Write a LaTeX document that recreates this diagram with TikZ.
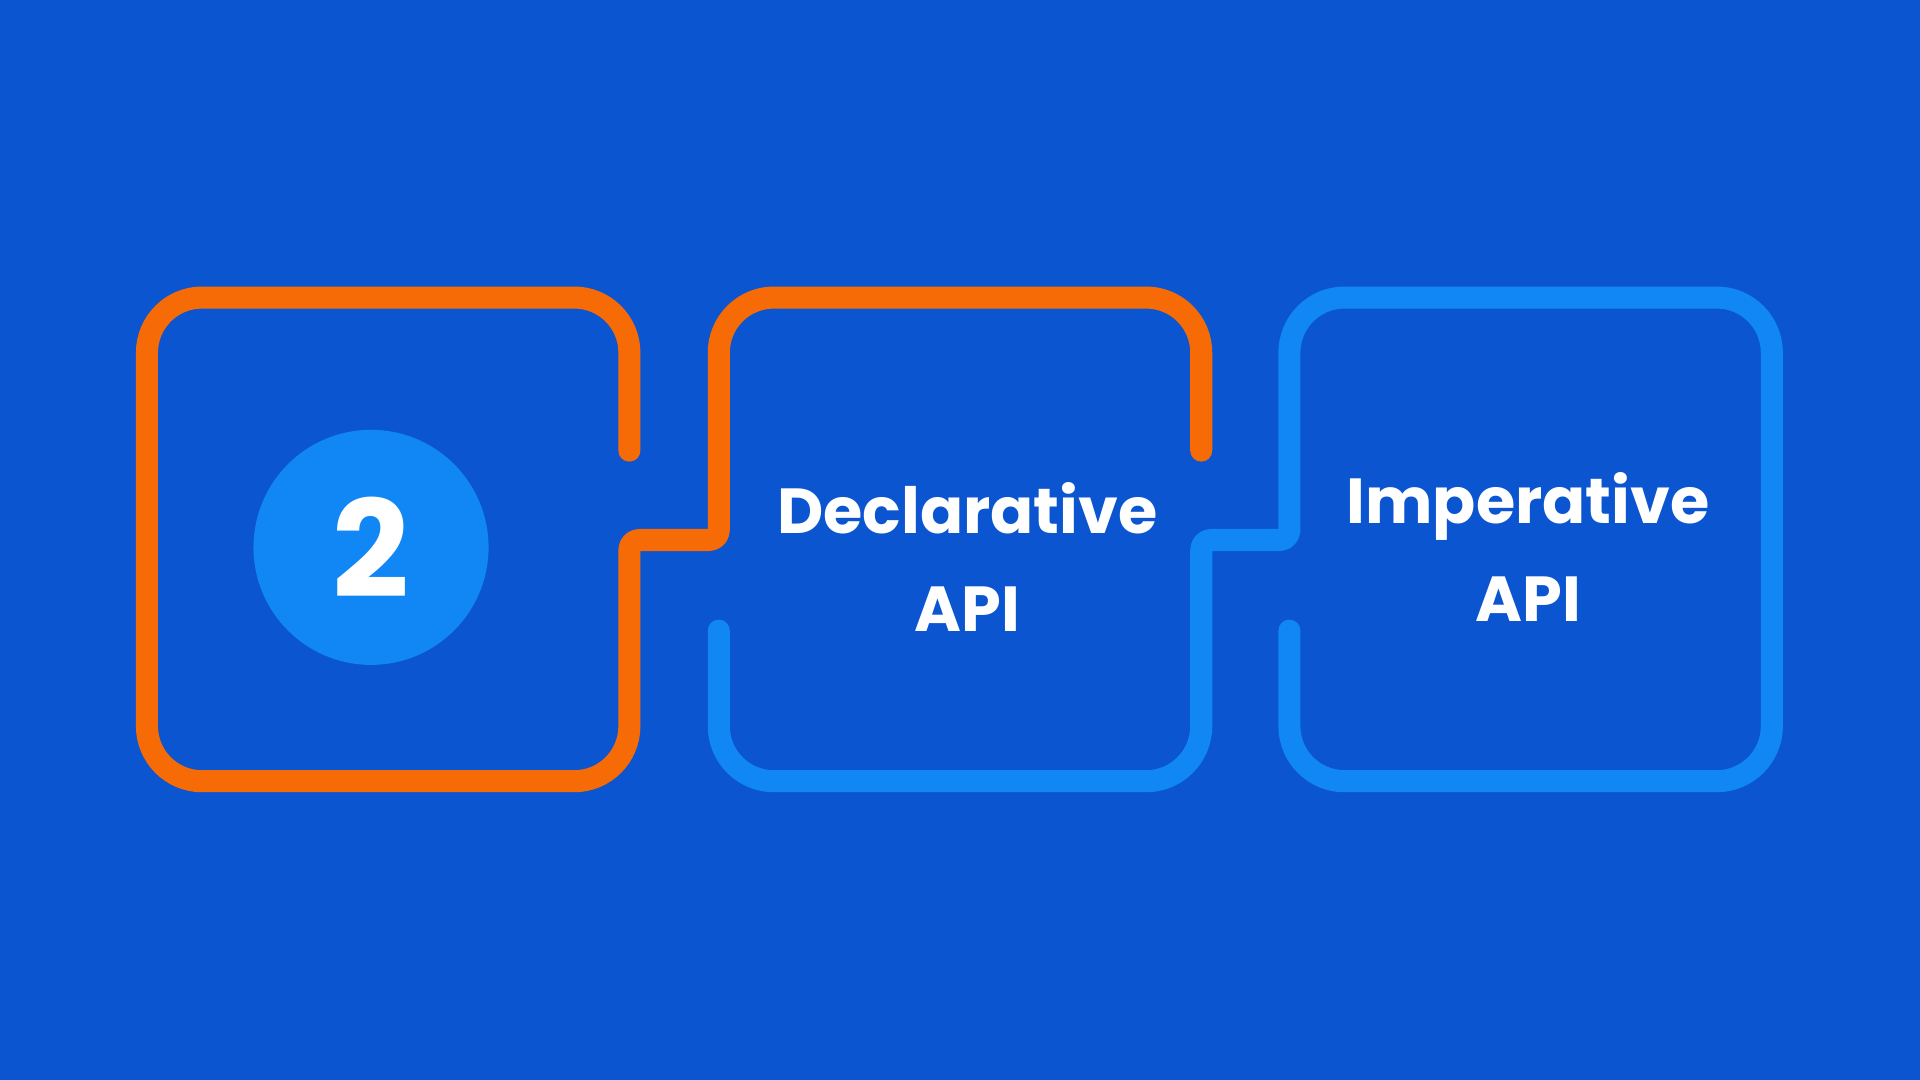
\documentclass[tikz,border=0pt]{standalone}
\usepackage{fontspec}
\setmainfont{Poppins}
\definecolor{bg}{HTML}{0B55D0}
\definecolor{org}{HTML}{F76B07}
\definecolor{lb}{HTML}{1187F5}
\begin{document}
\begin{tikzpicture}[x=1pt,y=-1pt,
  pathline/.style={line width=18pt,line cap=round,line join=round},
  lbl/.style={text=white,font=\bfseries\fontsize{52}{80}\selectfont,align=center}]
\fill[bg] (0,0) rectangle (1568,882);
\useasboundingbox (0,0) rectangle (1568,882);
\node[circle,fill=lb,minimum size=192pt,inner sep=0pt] (c) at (303,447) {};
\node[text=white,font=\bfseries\fontsize{110}{110}\selectfont] (two) at (c) {2};
\coordinate (s1) at (514,368);
\coordinate (s2) at (587,515);
\draw[pathline,org,rounded corners=45pt] (s1) -- (514,243) -- (120,243) -- (120,638) -- (514,638)
  [rounded corners=8pt] -- (514,441) -- (587,441) [rounded corners=45pt] -- (587,243) -- (981,243) -- (981,368);
\draw[pathline,lb,rounded corners=45pt] (s2) -- (587,638) -- (981,638)
  [rounded corners=8pt] -- (981,441) -- (1053,441) [rounded corners=45pt] -- (1053,243) -- (1447,243) -- (1447,638) -- (1053,638) -- (1053,515);
\node[lbl] (d) at (790,455) {Declarative\\API};
\node[lbl] (i) at (1248,447) {Imperative\\API};
\end{tikzpicture}
\end{document}
